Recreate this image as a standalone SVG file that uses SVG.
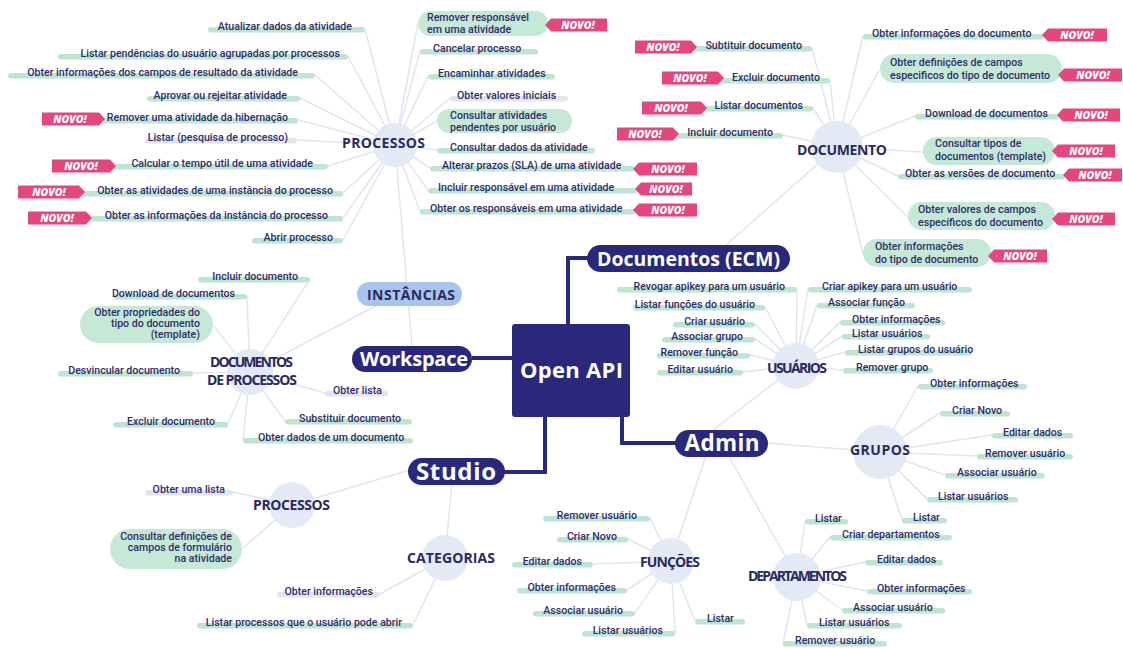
<svg xmlns="http://www.w3.org/2000/svg" width="1123" height="648" viewBox="0 0 1123 648">
<style>
.bg{fill:#ffffff}
.ln{stroke:#e2e5f0;stroke-width:1.5;fill:none}
.main{stroke:#29287a;stroke-width:4;fill:none}
.hub{fill:#e3e9f5}
.ug{fill:#bfe4d0}
.ux{fill:#e3e5eb}
.gp{fill:#c6e8d6}
.lf{font-family:Roboto,"Liberation Sans",sans-serif;font-weight:500;font-size:10.6px;fill:#2e2c6c}
.hl{font-family:"Open Sans","Liberation Sans",sans-serif;font-weight:700;font-size:14px;fill:#2b2a5e;text-anchor:middle}
.tag{fill:#e4477f}
.tt{font-family:"Open Sans","Liberation Sans",sans-serif;font-weight:800;font-style:italic;font-size:10.5px;fill:#ffffff;text-anchor:middle}
.pill{fill:#29287a}
.pt{font-family:"Open Sans","Liberation Sans",sans-serif;font-weight:700;fill:#ffffff;text-anchor:middle}
.e{text-anchor:end}
</style>
<rect class="bg" x="0" y="0" width="1123" height="648"/>

<g id="connectors">
  <path class="main" d="M568,324 V258 H590"/>
  <path class="main" d="M472,358 H512"/>
  <path class="main" d="M622,417 V443 H678"/>
  <path class="main" d="M545,417 V472 H502"/>
  <path class="ln" d="M395,145 L365,29 M395,145 L348,56 M395,145 L315,75 M395,145 L300,98 M395,145 L298,120 M395,145 L297,140 M395,145 L328,166 M395,145 L343,193 M395,145 L343,218 M395,145 L343,240"/>
  <path class="ln" d="M395,145 L418,23 M395,145 L420,51 M395,145 L428,76 M395,145 L450,98 M395,145 L437,121 M395,145 L437,150 M395,145 L430,168 M395,145 L428,190 M395,145 L420,211 M395,145 L412,346"/>
  <path class="ln" d="M837,147 L812,48 M837,147 L830,80 M837,147 L813,108 M837,147 L783,135 M837,147 L863,36 M837,147 L880,69 M837,147 L915,116 M837,147 L923,152 M837,147 L898,176 M837,147 L908,217 M837,147 L863,254 M837,147 L725,246"/>
  <path class="ln" d="M796,366 L797,289 M796,366 L765,307 M796,366 L755,324 M796,366 L755,339 M796,366 L750,355 M796,366 L743,372 M796,366 L808,289 M796,366 L817,305 M796,366 L840,322 M796,366 L842,336 M796,366 L845,352 M796,366 L843,370 M796,366 L712,431"/>
  <path class="ln" d="M880,452 L918,386 M880,452 L940,413 M880,452 L992,435 M880,452 L977,456 M880,452 L945,475 M880,452 L927,499 M880,452 L902,520 M880,452 L766,443"/>
  <path class="ln" d="M797,577 L805,521 M797,577 L830,537 M797,577 L865,562 M797,577 L867,591 M797,577 L842,610 M797,577 L807,625 M797,577 L783,643 M797,577 L728,455"/>
  <path class="ln" d="M671,561 L650,518 M671,561 L628,539 M671,561 L593,564 M671,561 L627,590 M671,561 L635,613 M671,561 L675,633 M671,561 L695,621 M671,561 L706,455"/>
  <path class="ln" d="M292,505 L233,492 M292,505 L242,549 M292,505 L410,470"/>
  <path class="ln" d="M445,558 L380,594 M445,558 L413,625 M445,558 L452,483"/>
  <path class="ln" d="M250,372 L310,279 M250,372 L247,296 M250,372 L213,325 M250,372 L193,373 M250,372 L228,424 M250,372 L325,393 M250,372 L285,421 M250,372 L243,440 M250,372 L385,301"/>
</g>

<g id="hubs">
  <circle class="hub" cx="395" cy="145" r="22"/>
  <circle class="hub" cx="837" cy="147" r="26"/>
  <circle class="hub" cx="796" cy="366" r="23"/>
  <circle class="hub" cx="880" cy="452" r="27"/>
  <circle class="hub" cx="797" cy="577" r="24"/>
  <circle class="hub" cx="671" cy="561" r="23"/>
  <circle class="hub" cx="445" cy="558" r="23"/>
  <circle class="hub" cx="292" cy="505" r="23"/>
  <circle class="hub" cx="250" cy="372" r="23"/>
</g>

<g id="open-api"><rect x="512" y="324" width="118" height="93" rx="3" fill="#29287a"/><text class="pt" x="571.5" y="378" font-size="22" font-weight="800" textLength="103">Open API</text></g>
<g id="documentos-ecm"><rect class="pill" x="587" y="245" width="203" height="27" rx="13.5"/><text class="pt" x="688.5" y="265.5" font-size="19.5" textLength="183">Documentos (ECM)</text></g>
<g id="workspace"><rect class="pill" x="352" y="346" width="120" height="26" rx="13"/><text class="pt" x="414" y="366" font-size="20" textLength="108">Workspace</text></g>
<g id="admin"><rect class="pill" x="675" y="430" width="93" height="27" rx="13.5"/><text class="pt" x="722" y="451" font-size="22.5" textLength="75">Admin</text></g>
<g id="studio"><rect class="pill" x="408" y="458" width="97" height="27" rx="13.5"/><text class="pt" x="456" y="479.5" font-size="24" textLength="80">Studio</text></g>
<g id="instancias"><rect x="357" y="282" width="105" height="24" rx="12" fill="#a9c4ec"/><text class="hl" x="411" y="299.5" font-size="15" fill="#2d3b70" textLength="88">INSTÂNCIAS</text></g>

<g id="hub-processos"><text class="hl" x="383.5" y="148" textLength="83">PROCESSOS</text></g>
<g id="hub-documento"><text class="hl" x="842" y="155" textLength="90">DOCUMENTO</text></g>
<g id="hub-usuarios"><text class="hl" x="797" y="372.5" font-size="12" textLength="60">USUÁRIOS</text></g>
<g id="hub-grupos"><text class="hl" x="880" y="455" textLength="60">GRUPOS</text></g>
<g id="hub-departamentos"><text class="hl" x="797.5" y="581" font-size="11.5" textLength="99">DEPARTAMENTOS</text></g>
<g id="hub-funcoes"><text class="hl" x="670" y="567" font-size="13" textLength="60">FUNÇÕES</text></g>
<g id="hub-categorias"><text class="hl" x="451" y="563" textLength="88">CATEGORIAS</text></g>
<g id="hub-studio-processos"><text class="hl" x="291.5" y="510" font-size="13.5" textLength="77">PROCESSOS</text></g>
<g id="hub-docs-processos"><text class="hl" x="251.5" y="367" font-size="11" textLength="83">DOCUMENTOS</text><text class="hl" x="252" y="384.5" font-size="11" textLength="90">DE PROCESSOS</text></g>

<g id="p1"><rect class="ug" x="208" y="27" width="157" height="5.5" rx="2.75"/><text class="lf e" x="352" y="29.6">Atualizar dados da atividade</text></g>
<g id="p2"><rect class="ug" x="58" y="54" width="290" height="5.5" rx="2.75"/><text class="lf e" x="340" y="56.6">Listar pendências do usuário agrupadas por processos</text></g>
<g id="p3"><rect class="ug" x="8" y="73" width="307" height="5.5" rx="2.75"/><text class="lf e" x="298" y="75.6">Obter informações dos campos de resultado da atividade</text></g>
<g id="p4"><rect class="ug" x="147" y="96" width="153" height="5.5" rx="2.75"/><text class="lf e" x="287" y="98.6">Aprovar ou rejeitar atividade</text></g>
<g id="p5"><rect class="ug" x="103" y="118" width="195" height="5.5" rx="2.75"/><path class="tag" d="M42,112.5 H99 L105,119 L99,125.5 H42 Z"/><text class="tt" x="70" y="123">NOVO!</text><text class="lf e" x="288" y="120.6">Remover uma atividade da hibernação</text></g>
<g id="p6"><rect class="ux" x="145" y="138" width="152" height="5.5" rx="2.75"/><text class="lf e" x="288" y="140.6">Listar (pesquisa de processo)</text></g>
<g id="p7"><rect class="ug" x="113" y="164" width="215" height="5.5" rx="2.75"/><path class="tag" d="M52,159.5 H110 L116,166 L110,172.5 H52 Z"/><text class="tt" x="81" y="170">NOVO!</text><text class="lf e" x="313" y="166.6">Calcular o tempo útil de uma atividade</text></g>
<g id="p8"><rect class="ug" x="83" y="191" width="260" height="5.5" rx="2.75"/><path class="tag" d="M18,185.5 H79 L85,192 L79,198.5 H18 Z"/><text class="tt" x="49" y="196">NOVO!</text><text class="lf e" x="333" y="193.6">Obter as atividades de uma instância do processo</text></g>
<g id="p9"><rect class="ug" x="90" y="216" width="253" height="5.5" rx="2.75"/><path class="tag" d="M28,211.5 H86 L92,218 L86,224.5 H28 Z"/><text class="tt" x="57" y="222">NOVO!</text><text class="lf e" x="328" y="218.6">Obter as informações da instância do processo</text></g>
<g id="p10"><rect class="ug" x="252" y="238" width="91" height="5.5" rx="2.75"/><text class="lf e" x="333" y="240.6">Abrir processo</text></g>
<g id="p11"><rect class="gp" x="418" y="11" width="130" height="25" rx="12.5"/><path class="tag" d="M545,25 L551,18.5 H607 V31.5 H551 Z"/><text class="tt" x="578" y="29">NOVO!</text><text class="lf" x="427" y="20.6">Remover responsável</text><text class="lf" x="427" y="32.6">em uma atividade</text></g>
<g id="p12"><rect class="ug" x="420" y="49" width="118" height="5.5" rx="2.75"/><text class="lf" x="433" y="51.6">Cancelar processo</text></g>
<g id="p13"><rect class="ug" x="428" y="74" width="127" height="5.5" rx="2.75"/><text class="lf" x="438" y="76.6">Encaminhar atividades</text></g>
<g id="p14"><rect class="ux" x="450" y="96" width="118" height="5.5" rx="2.75"/><text class="lf" x="457" y="98.6">Obter valores iniciais</text></g>
<g id="p15"><rect class="gp" x="437" y="109" width="135" height="24" rx="12"/><text class="lf" x="450" y="118.6">Consultar atividades</text><text class="lf" x="450" y="130.6">pendentes por usuário</text></g>
<g id="p16"><rect class="ug" x="437" y="148" width="158" height="5.5" rx="2.75"/><text class="lf" x="450" y="150.6">Consultar dados da atividade</text></g>
<g id="p17"><rect class="ug" x="430" y="166" width="205" height="5.5" rx="2.75"/><path class="tag" d="M633,169 L639,162.5 H697 V175.5 H639 Z"/><text class="tt" x="668" y="173">NOVO!</text><text class="lf" x="442" y="168.6">Alterar prazos (SLA) de uma atividade</text></g>
<g id="p18"><rect class="ug" x="428" y="188" width="209" height="5.5" rx="2.75"/><path class="tag" d="M635,189 L641,182.5 H692 V195.5 H641 Z"/><text class="tt" x="666" y="193">NOVO!</text><text class="lf" x="438" y="190.6">Incluir responsável em uma atividade</text></g>
<g id="p19"><rect class="ug" x="420" y="209" width="215" height="5.5" rx="2.75"/><path class="tag" d="M633,210 L639,203.5 H697 V216.5 H639 Z"/><text class="tt" x="668" y="214">NOVO!</text><text class="lf" x="430" y="211.6">Obter os responsáveis em uma atividade</text></g>

<g id="d1"><rect class="ug" x="693" y="46" width="119" height="5.5" rx="2.75"/><path class="tag" d="M635,40.5 H691 L697,47 L691,53.5 H635 Z"/><text class="tt" x="663" y="51">NOVO!</text><text class="lf e" x="802" y="48.6">Subtituir documento</text></g>
<g id="d2"><rect class="ug" x="720" y="78" width="110" height="5.5" rx="2.75"/><path class="tag" d="M662,71.5 H718 L724,78 L718,84.5 H662 Z"/><text class="tt" x="690" y="82">NOVO!</text><text class="lf e" x="820" y="80.6">Excluir documento</text></g>
<g id="d3"><rect class="ug" x="705" y="106" width="108" height="5.5" rx="2.75"/><path class="tag" d="M642,101.5 H701 L707,108 L701,114.5 H642 Z"/><text class="tt" x="671" y="112">NOVO!</text><text class="lf e" x="803" y="108.6">Listar documentos</text></g>
<g id="d4"><rect class="ug" x="677" y="133" width="106" height="5.5" rx="2.75"/><path class="tag" d="M617,127.5 H673 L679,134 L673,140.5 H617 Z"/><text class="tt" x="645" y="138">NOVO!</text><text class="lf e" x="773" y="135.6">Incluir documento</text></g>
<g id="d5"><rect class="ug" x="863" y="34" width="181" height="5.5" rx="2.75"/><path class="tag" d="M1042,35 L1048,28.5 H1107 V41.5 H1048 Z"/><text class="tt" x="1077" y="39">NOVO!</text><text class="lf" x="872" y="36.6">Obter informações do documento</text></g>
<g id="d6"><rect class="gp" x="880" y="54" width="182" height="29" rx="14.5"/><path class="tag" d="M1058,75 L1064,68.5 H1122 V81.5 H1064 Z"/><text class="tt" x="1093" y="79">NOVO!</text><text class="lf" x="890" y="65.6">Obter definições de campos</text><text class="lf" x="890" y="78.6">especificos do tipo de documento</text></g>
<g id="d7"><rect class="ug" x="915" y="114" width="144" height="5.5" rx="2.75"/><path class="tag" d="M1057,115 L1063,108.5 H1120 V121.5 H1063 Z"/><text class="tt" x="1091" y="119">NOVO!</text><text class="lf" x="925" y="116.6">Download de documentos</text></g>
<g id="d8"><rect class="gp" x="923" y="137" width="132" height="28" rx="14"/><path class="tag" d="M1052,151 L1058,144.5 H1115 V157.5 H1058 Z"/><text class="tt" x="1086" y="155">NOVO!</text><text class="lf" x="935" y="146.6">Consultar tipos de</text><text class="lf" x="935" y="159.6">documentos (template)</text></g>
<g id="d9"><rect class="ug" x="898" y="174" width="167" height="5.5" rx="2.75"/><path class="tag" d="M1063,175 L1069,168.5 H1122 V181.5 H1069 Z"/><text class="tt" x="1095" y="179">NOVO!</text><text class="lf" x="905" y="176.6">Obter as versões de documento</text></g>
<g id="d10"><rect class="gp" x="908" y="202" width="147" height="28" rx="14"/><path class="tag" d="M1052,219 L1058,212.5 H1115 V225.5 H1058 Z"/><text class="tt" x="1086" y="223">NOVO!</text><text class="lf" x="918" y="212.6">Obter valores de campos</text><text class="lf" x="918" y="225.6">específicos do documento</text></g>
<g id="d11"><rect class="gp" x="863" y="239" width="128" height="28" rx="14"/><path class="tag" d="M988,256 L994,249.5 H1047 V262.5 H994 Z"/><text class="tt" x="1020" y="260">NOVO!</text><text class="lf" x="875" y="249.6">Obter informações</text><text class="lf" x="875" y="262.6">do tipo de documento</text></g>

<g id="u1"><rect class="ug" x="617" y="287" width="180" height="5.5" rx="2.75"/><text class="lf e" x="785" y="289.6">Revogar apikey para um usuário</text></g>
<g id="u2"><rect class="ug" x="633" y="305" width="132" height="5.5" rx="2.75"/><text class="lf e" x="755" y="307.6">Listar funções do usuário</text></g>
<g id="u3"><rect class="ug" x="673" y="322" width="82" height="5.5" rx="2.75"/><text class="lf e" x="745" y="324.6">Criar usuário</text></g>
<g id="u4"><rect class="ug" x="662" y="337" width="93" height="5.5" rx="2.75"/><text class="lf e" x="743" y="339.6">Associar grupo</text></g>
<g id="u5"><rect class="ug" x="657" y="353" width="93" height="5.5" rx="2.75"/><text class="lf e" x="738" y="355.6">Remover função</text></g>
<g id="u6"><rect class="ug" x="657" y="370" width="86" height="5.5" rx="2.75"/><text class="lf e" x="733" y="372.6">Editar usuário</text></g>
<g id="u7"><rect class="ug" x="808" y="287" width="164" height="5.5" rx="2.75"/><text class="lf" x="822" y="289.6">Criar apikey para um usuário</text></g>
<g id="u8"><rect class="ug" x="817" y="303" width="98" height="5.5" rx="2.75"/><text class="lf" x="828" y="305.6">Associar função</text></g>
<g id="u9"><rect class="ug" x="840" y="320" width="105" height="5.5" rx="2.75"/><text class="lf" x="852" y="322.6">Obter informações</text></g>
<g id="u10"><rect class="ug" x="842" y="334" width="88" height="5.5" rx="2.75"/><text class="lf" x="852" y="336.6">Listar usuários</text></g>
<g id="u11"><rect class="ug" x="845" y="350" width="127" height="5.5" rx="2.75"/><text class="lf" x="858" y="352.6">Listar grupos do usuário</text></g>
<g id="u12"><rect class="ug" x="843" y="368" width="90" height="5.5" rx="2.75"/><text class="lf" x="856" y="370.6">Remover grupo</text></g>

<g id="g1"><rect class="ug" x="918" y="384" width="109" height="5.5" rx="2.75"/><text class="lf" x="930" y="386.6">Obter informações</text></g>
<g id="g2"><rect class="ug" x="940" y="411" width="70" height="5.5" rx="2.75"/><text class="lf" x="952" y="413.6">Criar Novo</text></g>
<g id="g3"><rect class="ug" x="992" y="433" width="81" height="5.5" rx="2.75"/><text class="lf" x="1003" y="435.6">Editar dados</text></g>
<g id="g4"><rect class="ug" x="977" y="454" width="96" height="5.5" rx="2.75"/><text class="lf" x="985" y="456.6">Remover usuário</text></g>
<g id="g5"><rect class="ug" x="945" y="473" width="100" height="5.5" rx="2.75"/><text class="lf" x="957" y="475.6">Associar usuário</text></g>
<g id="g6"><rect class="ug" x="927" y="497" width="91" height="5.5" rx="2.75"/><text class="lf" x="938" y="499.6">Listar usuários</text></g>
<g id="g7"><rect class="ug" x="902" y="518" width="45" height="5.5" rx="2.75"/><text class="lf" x="913" y="520.6">Listar</text></g>

<g id="dp1"><rect class="ug" x="805" y="519" width="43" height="5.5" rx="2.75"/><text class="lf" x="815" y="521.6">Listar</text></g>
<g id="dp2"><rect class="ug" x="830" y="535" width="122" height="5.5" rx="2.75"/><text class="lf" x="842" y="537.6">Criar departamentos</text></g>
<g id="dp3"><rect class="ug" x="865" y="560" width="78" height="5.5" rx="2.75"/><text class="lf" x="877" y="562.6">Editar dados</text></g>
<g id="dp4"><rect class="ug" x="867" y="589" width="105" height="5.5" rx="2.75"/><text class="lf" x="877" y="591.6">Obter informações</text></g>
<g id="dp5"><rect class="ug" x="842" y="608" width="103" height="5.5" rx="2.75"/><text class="lf" x="853" y="610.6">Associar usuário</text></g>
<g id="dp6"><rect class="ug" x="807" y="623" width="95" height="5.5" rx="2.75"/><text class="lf" x="819" y="625.6">Listar usuários</text></g>
<g id="dp7"><rect class="ug" x="783" y="641" width="104" height="5.5" rx="2.75"/><text class="lf" x="795" y="643.6">Remover usuário</text></g>

<g id="f1"><rect class="ug" x="543" y="516" width="107" height="5.5" rx="2.75"/><text class="lf e" x="637" y="518.6">Remover usuário</text></g>
<g id="f2"><rect class="ug" x="557" y="537" width="71" height="5.5" rx="2.75"/><text class="lf e" x="617" y="539.6">Criar Novo</text></g>
<g id="f3"><rect class="ug" x="512" y="562" width="81" height="5.5" rx="2.75"/><text class="lf e" x="582" y="564.6">Editar dados</text></g>
<g id="f4"><rect class="ug" x="517" y="588" width="110" height="5.5" rx="2.75"/><text class="lf e" x="616" y="590.6">Obter informações</text></g>
<g id="f5"><rect class="ug" x="533" y="611" width="102" height="5.5" rx="2.75"/><text class="lf e" x="623" y="613.6">Associar usuário</text></g>
<g id="f6"><rect class="ug" x="582" y="631" width="93" height="5.5" rx="2.75"/><text class="lf e" x="663" y="633.6">Listar usuários</text></g>
<g id="f7"><rect class="ug" x="695" y="619" width="50" height="5.5" rx="2.75"/><text class="lf" x="707" y="621.6">Listar</text></g>

<g id="s1"><rect class="ux" x="145" y="490" width="88" height="5.5" rx="2.75"/><text class="lf e" x="225" y="492.6">Obter uma lista</text></g>
<g id="s2"><rect class="gp" x="110" y="529" width="132" height="40" rx="20"/><text class="lf e" x="232" y="539.6">Consultar definições de</text><text class="lf e" x="232" y="550.6">campos de formulário</text><text class="lf e" x="232" y="561.6">na atividade</text></g>
<g id="c1"><rect class="ux" x="277" y="592" width="103" height="5.5" rx="2.75"/><text class="lf e" x="373" y="594.6">Obter informações</text></g>
<g id="c2"><rect class="ug" x="197" y="623" width="216" height="5.5" rx="2.75"/><text class="lf e" x="402" y="625.6">Listar processos que o usuário pode abrir</text></g>

<g id="dd1"><rect class="ug" x="198" y="277" width="112" height="5.5" rx="2.75"/><text class="lf e" x="298" y="279.6">Incluir documento</text></g>
<g id="dd2"><rect class="ug" x="113" y="294" width="134" height="5.5" rx="2.75"/><text class="lf e" x="235" y="296.6">Download de documentos</text></g>
<g id="dd3"><rect class="gp" x="80" y="306" width="133" height="37" rx="18.5"/><text class="lf e" x="200" y="315.6">Obter propriedades do</text><text class="lf e" x="200" y="326.6">tipo do documento</text><text class="lf e" x="200" y="337.6">(template)</text></g>
<g id="dd4"><rect class="ug" x="58" y="371" width="135" height="5.5" rx="2.75"/><text class="lf e" x="180" y="373.6">Desvincular documento</text></g>
<g id="dd5"><rect class="ug" x="113" y="422" width="115" height="5.5" rx="2.75"/><text class="lf e" x="215" y="424.6">Excluir documento</text></g>
<g id="dd6"><rect class="ux" x="325" y="391" width="63" height="5.5" rx="2.75"/><text class="lf" x="333" y="393.6">Obter lista</text></g>
<g id="dd7"><rect class="ug" x="285" y="419" width="127" height="5.5" rx="2.75"/><text class="lf" x="299" y="421.6">Substituir documento</text></g>
<g id="dd8"><rect class="ug" x="243" y="438" width="170" height="5.5" rx="2.75"/><text class="lf" x="258" y="440.6">Obter dados de um documento</text></g>
</svg>
